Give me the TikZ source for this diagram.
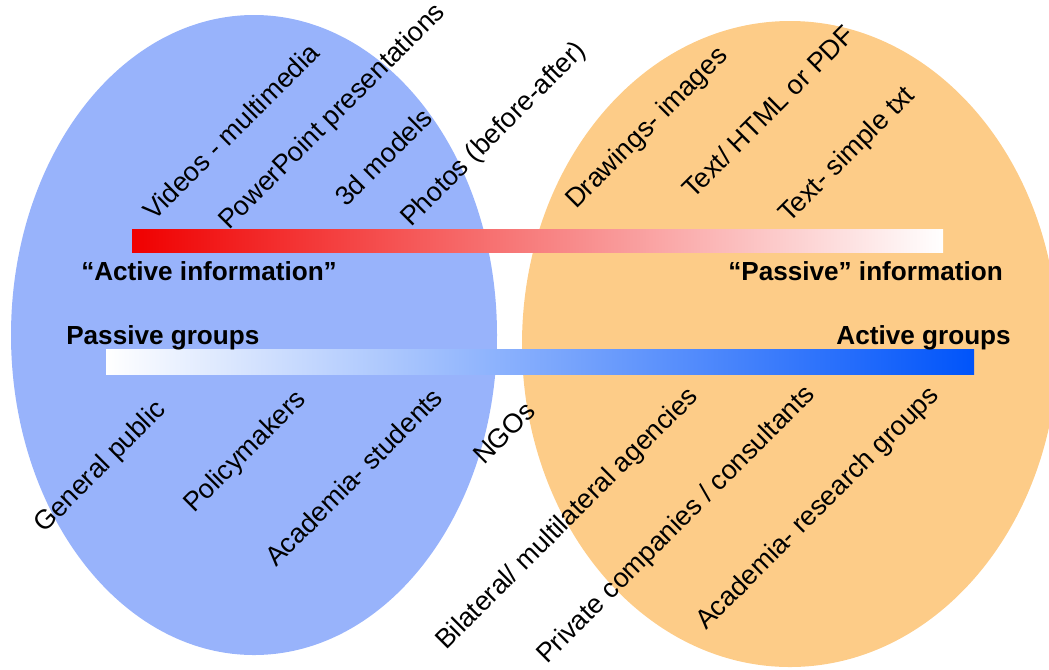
\documentclass[tikz,border=0pt]{standalone}
\usepackage{fontspec}
\setmainfont{Liberation Sans}
\usetikzlibrary{positioning}
\definecolor{groupblue}{RGB}{152,179,251}
\definecolor{grouporange}{RGB}{253,204,136}
\definecolor{barred}{RGB}{240,0,0}
\definecolor{barblue}{RGB}{0,84,250}
\tikzset{
  tilted/.style={rotate=45, anchor=base west, inner sep=0pt, font=\fontsize{20.2}{24}\selectfont},
  heading/.style={inner sep=0pt, font=\fontsize{19.6}{23}\selectfont\bfseries}
}

\begin{document}
\begin{tikzpicture}[x=0.75pt, y=-0.75pt]
			%%%%% START %%%%%
			\useasboundingbox (0, 0) rectangle (1049, 669);
			
			\fill[groupblue] (254, 335) ellipse [x radius=243, y radius=320];
			\fill[grouporange] (790, 344) ellipse [x radius=268, y radius=323];
			
			\shade[left color=barred, right color=white] (132, 229) rectangle (943, 252);
			\shade[left color=white, right color=barblue] (106, 349) rectangle (974, 374);
			
			\node[heading, anchor=base west] (activeinfo) at (81, 280) {“Active information”};
			\node[heading, anchor=base east] (passiveinfo) at (1003, 280) {“Passive” information};
			\node[heading, anchor=base west] (passivegrp) at (66, 344) {Passive groups};
			\node[heading, anchor=base east] (activegrp) at (1011, 344) {Active groups};
			
			% kinds of information
			\node[tilted] (videos) at (154, 222) {Videos - multimedia};
			\node[tilted] (ppt) at (229, 231) {PowerPoint presentations};
			\node[tilted] (models) at (346, 208) {3d models};
			\node[tilted] (photos) at (411, 228) {Photos (before-after)};
			\node[tilted] (drawings) at (576, 210) {Drawings- images};
			\node[tilted] (html) at (693, 200) {Text/ HTML or PDF};
			\node[tilted] (plaintxt) at (789, 224) {Text- simple txt};
			
			% kinds of groups
			\node[tilted] (public) at (44, 534) {General public};
			\node[tilted] (policy) at (194, 514) {Policymakers};
			\node[tilted] (students) at (276, 568) {Academia- students};
			\node[tilted] (ngos) at (484, 466) {NGOs};
			\node[tilted] (agencies) at (446, 651) {Bilateral/ multilateral agencies};
			\node[tilted] (private) at (547, 665) {Private companies / consultants};
			\node[tilted] (research) at (706, 631) {Academia- research groups};
			
			%%%%% END %%%%%
\end{tikzpicture}
\end{document}
